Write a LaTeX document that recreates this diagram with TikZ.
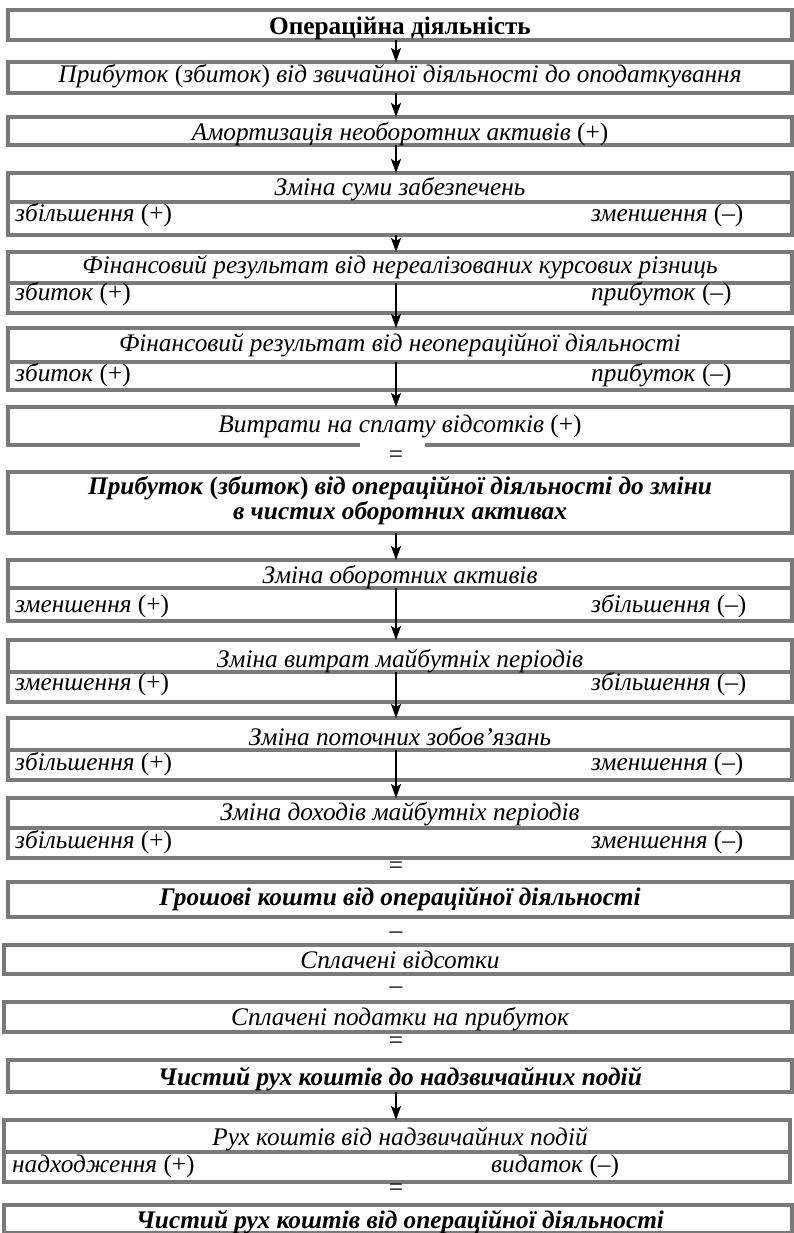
\documentclass[tikz,border=0pt]{standalone}
\usepackage{fontspec}
\setmainfont{Liberation Serif}
\usetikzlibrary{arrows.meta}
\definecolor{bord}{RGB}{122,122,122}
\newcommand{\bx}[5]{\node[box, minimum width={(#4-#2)*1pt}, minimum height={(#5-#3)*1pt}] (#1) at ({(#2+#4)/2},{(#3+#5)/2}) {};}
\newcommand{\pl}{\textup{(+)}}
\newcommand{\mi}{\textup{(–)}}
\newcommand{\fs}{\fontsize{25.3}{25}\selectfont}
\begin{document}
\begin{tikzpicture}[x=1pt,y=-1pt,
  box/.style={draw=bord, line width=3.2pt, inner sep=0pt, outer sep=0pt},
  brd/.style={draw=bord, line width=3.2pt},
  head/.style={anchor=base, inner sep=0pt, font=\fs\itshape},
  bhead/.style={anchor=base, inner sep=0pt, font=\fs\bfseries\itshape},
  lab/.style={anchor=base west, inner sep=0pt, font=\fs\itshape},
  sym/.style={inner sep=0pt, font=\fs},
  arr/.style={line width=1.5pt, -{Stealth[length=14pt,width=10pt,inset=3pt]}}]
\useasboundingbox (0,0) rectangle (793,1233);
\fill[white] (0,0) rectangle (793,1233);
\coordinate (ax) at (396,0);
% boxes
\bx{b1}{8}{10}{792}{40}
\bx{b2}{8}{62}{792}{93}
\bx{b3}{8}{117}{792}{145}
\bx{b4h}{8}{173}{792}{202}
\bx{b4s}{8}{202}{792}{235}
\bx{b5h}{8}{252}{792}{283}
\bx{b5s}{8}{283}{792}{313}
\bx{b6h}{8}{328}{792}{362}
\bx{b6s}{8}{362}{792}{390}
\node[inner sep=0pt, outer sep=0pt, minimum width=784pt, minimum height=38pt] (b7) at (400,426) {};
\coordinate (g1) at (360,445);
\coordinate (g2) at (425,445);
\draw[brd] (g1) -- (b7.south west) -- (b7.north west) -- (b7.north east) -- (b7.south east) -- (g2);
\bx{b8}{8}{472}{792}{533}
\bx{b9h}{8}{560}{792}{588}
\bx{b9s}{8}{588}{792}{621}
\bx{b10h}{8}{640}{792}{672}
\bx{b10s}{8}{672}{792}{702}
\bx{b11h}{8}{718}{792}{750}
\bx{b11s}{8}{750}{792}{780}
\bx{b12h}{8}{798}{792}{828}
\bx{b12s}{8}{828}{792}{858}
\bx{b13}{8}{882}{792}{917}
\bx{b14}{4}{945}{792}{974}
\bx{b15}{4}{1002}{792}{1032}
\bx{b16}{8}{1060}{792}{1092}
\bx{b17h}{4}{1120}{790}{1152}
\bx{b17s}{4}{1152}{790}{1182}
\bx{b18}{4}{1205}{792}{1233}
% texts
\node[head, font=\fs\bfseries] (t1) at (400,35) {Операційна діяльність};
\node[head] (t2) at (400,83) {Прибуток \textup{(}збиток\textup{)} від звичайної діяльності до оподаткування};
\node[head] (t3) at (400,141) {Амортизація необоротних активів \pl};
\node[head] (t4) at (400,196) {Зміна суми забезпечень};
\node[lab] (l4) at (15,222) {збільшення \pl};
\node[lab] (r4) at (591,222) {зменшення \mi};
\node[head] (t5) at (400,273) {Фінансовий результат від нереалізованих курсових різниць};
\node[lab] (l5) at (15,300) {збиток \pl};
\node[lab] (r5) at (591,300) {прибуток \mi};
\node[head] (t6) at (400,351) {Фінансовий результат від неопераційної діяльності};
\node[lab] (l6) at (15,381) {збиток \pl};
\node[lab] (r6) at (591,381) {прибуток \mi};
\node[head] (t7) at (400,432) {Витрати на сплату відсотків \pl};
\node[sym] (e1) at (396,457) {=};
\node[bhead, anchor=north, align=center] (t8) at (400,476) {Прибуток \textup{(}збиток\textup{)} від операційної діяльності до зміни\\в чистих оборотних активах};
\node[head] (t9) at (400,583) {Зміна оборотних активів};
\node[lab] (l9) at (15,612) {зменшення \pl};
\node[lab] (r9) at (591,612) {збільшення \mi};
\node[head] (t10) at (400,667) {Зміна витрат майбутніх періодів};
\node[lab] (l10) at (15,690) {зменшення \pl};
\node[lab] (r10) at (591,690) {збільшення \mi};
\node[head] (t11) at (400,745) {Зміна поточних зобов’язань};
\node[lab] (l11) at (15,770) {збільшення \pl};
\node[lab] (r11) at (591,770) {зменшення \mi};
\node[head] (t12) at (400,820) {Зміна доходів майбутніх періодів};
\node[lab] (l12) at (15,848) {збільшення \pl};
\node[lab] (r12) at (591,848) {зменшення \mi};
\node[sym] (e2) at (396,868) {=};
\node[bhead] (t13) at (400,905) {Грошові кошти від операційної діяльності};
\node[sym] (m1) at (396,935) {–};
\node[head] (t14) at (400,968) {Сплачені відсотки};
\node[sym] (m2) at (396,990) {–};
\node[head] (t15) at (400,1025) {Сплачені податки на прибуток};
\node[sym] (e3) at (396,1043) {=};
\node[bhead] (t16) at (400,1085) {Чистий рух коштів до надзвичайних подій};
\node[head] (t17) at (400,1145) {Рух коштів від надзвичайних подій};
\node[lab] (l17) at (12,1172) {надходження \pl};
\node[lab] (r17) at (491,1172) {видаток \mi};
\node[sym] (e4) at (396,1190) {=};
\node[bhead] (t18) at (400,1228) {Чистий рух коштів від операційної діяльності};
% arrows
\draw[arr] (b1.south -| ax) -- (b2.north -| ax);
\draw[arr] (b2.south -| ax) -- (b3.north -| ax);
\draw[arr] (b3.south -| ax) -- (b4h.north -| ax);
\draw[arr] (b4s.south -| ax) -- (b5h.north -| ax);
\draw[arr] (b5h.south -| ax) -- (b6h.north -| ax);
\draw[arr] (b6h.south -| ax) -- (b7.north -| ax);
\draw[arr] (b8.south -| ax) -- (b9h.north -| ax);
\draw[arr] (b9h.south -| ax) -- (b10h.north -| ax);
\draw[arr] (b10h.south -| ax) -- (b11h.north -| ax);
\draw[arr] (b11h.south -| ax) -- (b12h.north -| ax);
\draw[arr] (b16.south -| ax) -- (b17h.north -| ax);
\end{tikzpicture}
\end{document}
